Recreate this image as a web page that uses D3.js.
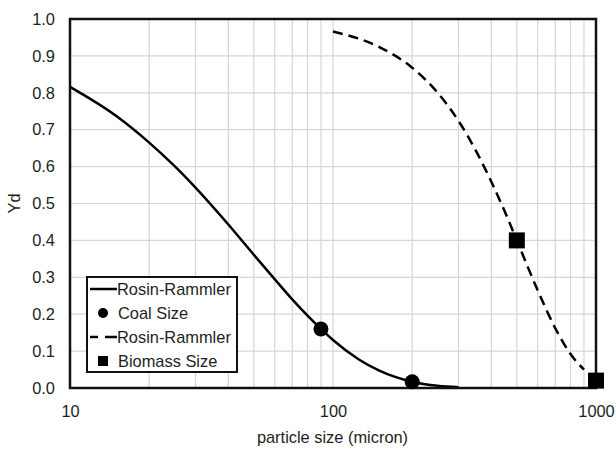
<!DOCTYPE html>
<html>
<head>
<meta charset="utf-8">
<script src="https://cdn.jsdelivr.net/npm/d3@7"></script>
<style>
  html, body { margin: 0; padding: 0; background: #fff; }
  svg { display: block; font-family: "Liberation Sans", Arial, sans-serif; }
</style>
</head>
<body>
<svg id="chart" width="616" height="450"></svg>
<script>
// Rosin-Rammler fit for coal particles
const coalD  = [10, 15, 20, 25, 30, 40, 50, 60, 70, 80, 90, 100, 125, 150, 200, 250, 300];
const coalYd = [0.816, 0.737, 0.665, 0.601, 0.543, 0.443, 0.361, 0.295, 0.240, 0.196, 0.160, 0.130, 0.078, 0.047, 0.017, 0.006, 0.002];
// measured coal sizes
const coalSizeD  = [90, 200];
const coalSizeYd = [0.160, 0.017];
// Rosin-Rammler fit for biomass particles
const bioD  = [100, 150, 200, 250, 300, 350, 400, 450, 500, 600, 700, 800, 900];
const bioYd = [0.966, 0.924, 0.868, 0.800, 0.724, 0.642, 0.559, 0.478, 0.400, 0.265, 0.162, 0.092, 0.050];
// measured biomass sizes
const bioSizeD  = [500, 1000];
const bioSizeYd = [0.400, 0.020];

const xTickLabels = [10, 100, 1000];
const xGridValues = [20, 30, 40, 50, 60, 70, 80, 90, 100, 200, 300, 400, 500, 600, 700, 800, 900];
const yTickValues = [0, 0.1, 0.2, 0.3, 0.4, 0.5, 0.6, 0.7, 0.8, 0.9, 1.0];
const legendItems = [
  { label: "Rosin-Rammler", type: "solid" },
  { label: "Coal Size", type: "circle" },
  { label: "Rosin-Rammler", type: "dashed" },
  { label: "Biomass Size", type: "square" }
];

const svg = d3.select("#chart");
const plotLeft = 70, plotRight = 596, plotTop = 19, plotBottom = 388;
const textColor = "#1e1e1e";
const fontSize = 16.4;

const x = d3.scaleLog().domain([10, 1000]).range([plotLeft, plotRight]);
const y = d3.scaleLinear().domain([0, 1]).range([plotBottom, plotTop]);

// grid
const grid = svg.append("g");
grid.selectAll("line.vg").data(xGridValues).join("line")
  .attr("x1", d => x(d)).attr("x2", d => x(d))
  .attr("y1", plotTop).attr("y2", plotBottom)
  .attr("stroke", "#d6d6d6").attr("stroke-width", 1.2);
grid.selectAll("line.hg").data(yTickValues.slice(1, -1)).join("line")
  .attr("x1", plotLeft).attr("x2", plotRight)
  .attr("y1", d => y(d)).attr("y2", d => y(d))
  .attr("stroke", "#d6d6d6").attr("stroke-width", 1.2);

// axes (labels only)
const yAxis = svg.append("g").attr("transform", `translate(${plotLeft},0)`)
  .call(d3.axisLeft(y).tickValues(yTickValues).tickFormat(d3.format(".1f")).tickSize(0).tickPadding(15));
const xAxis = svg.append("g").attr("transform", `translate(0,${plotBottom})`)
  .call(d3.axisBottom(x).tickValues(xTickLabels).tickFormat(d3.format("d")).tickSize(0).tickPadding(17));
[yAxis, xAxis].forEach(a => {
  a.select(".domain").remove();
  a.selectAll("text").attr("font-size", fontSize).attr("fill", textColor)
    .attr("font-family", '"Liberation Sans", Arial, sans-serif');
});

// axis titles
svg.append("text")
  .attr("x", (plotLeft + plotRight) / 2 - 0.5).attr("y", 443)
  .attr("text-anchor", "middle").attr("font-size", fontSize).attr("fill", textColor)
  .text("particle size (micron)");
svg.append("text")
  .attr("transform", `translate(20,${(plotTop + plotBottom) / 2}) rotate(-90)`)
  .attr("text-anchor", "middle").attr("font-size", fontSize).attr("fill", textColor)
  .text("Yd");

// curves
const line = d3.line().x(d => x(d[0])).y(d => y(d[1])).curve(d3.curveMonotoneX);
svg.append("path")
  .datum(d3.zip(coalD, coalYd))
  .attr("d", line).attr("fill", "none")
  .attr("stroke", "#000").attr("stroke-width", 2.5);
svg.append("path")
  .datum(d3.zip(bioD, bioYd))
  .attr("d", line).attr("fill", "none")
  .attr("stroke", "#000").attr("stroke-width", 2.5)
  .attr("stroke-dasharray", "10,6");

// frame
svg.append("rect")
  .attr("x", plotLeft).attr("y", plotTop)
  .attr("width", plotRight - plotLeft).attr("height", plotBottom - plotTop)
  .attr("fill", "none").attr("stroke", "#111").attr("stroke-width", 2.5);

// markers
svg.selectAll("circle.coal").data(d3.zip(coalSizeD, coalSizeYd)).join("circle")
  .attr("cx", d => x(d[0])).attr("cy", d => y(d[1])).attr("r", 7.5)
  .attr("fill", "#000");
const sq = 16;
svg.selectAll("rect.bio").data(d3.zip(bioSizeD, bioSizeYd)).join("rect")
  .attr("x", d => x(d[0]) - sq / 2).attr("y", d => y(d[1]) - sq / 2)
  .attr("width", sq).attr("height", sq).attr("fill", "#000");

// legend
const lg = svg.append("g");
lg.append("rect")
  .attr("x", 87).attr("y", 277).attr("width", 150).attr("height", 95)
  .attr("fill", "#fff").attr("stroke", "#111").attr("stroke-width", 2);
legendItems.forEach((item, i) => {
  const cy = 289 + i * 24;
  if (item.type === "solid" || item.type === "dashed") {
    lg.append("line")
      .attr("x1", 90).attr("x2", 117).attr("y1", cy).attr("y2", cy)
      .attr("stroke", "#000").attr("stroke-width", 2.5)
      .attr("stroke-dasharray", item.type === "dashed" ? "8,7,12" : null);
  } else if (item.type === "circle") {
    lg.append("circle").attr("cx", 103).attr("cy", cy).attr("r", 5).attr("fill", "#000");
  } else {
    lg.append("rect").attr("x", 98).attr("y", cy - 5).attr("width", 10).attr("height", 10).attr("fill", "#000");
  }
  lg.append("text")
    .attr("x", item.type === "solid" || item.type === "dashed" ? 117 : 118)
    .attr("y", cy).attr("dy", "0.36em")
    .attr("font-size", fontSize).attr("fill", textColor)
    .text(item.label);
});
</script>
</body>
</html>
